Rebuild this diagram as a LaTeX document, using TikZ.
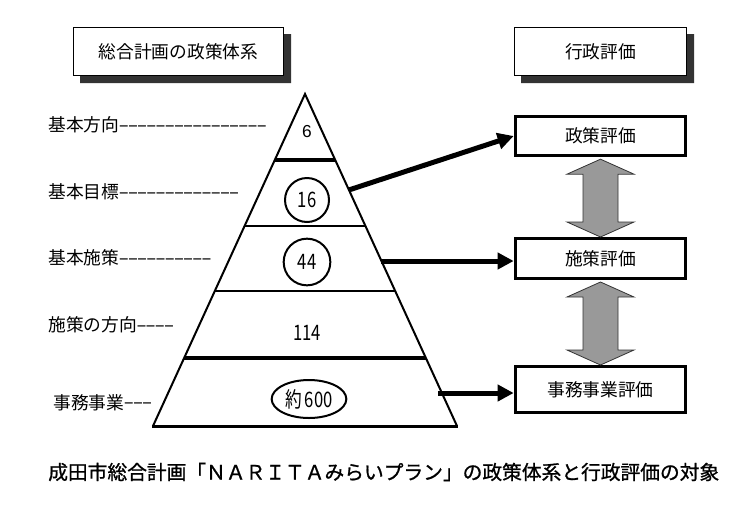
\documentclass[tikz,border=0pt]{standalone}
\usepackage{fontspec}
\usepackage{graphicx}
\usetikzlibrary{arrows.meta,calc,shapes.geometric}
\newfontfamily\jp{Noto Sans CJK JP}
\newfontfamily\jpb[FakeBold=1]{Noto Sans CJK JP}
\newfontfamily\monof{Liberation Mono}
\newfontfamily\arialf{Liberation Sans}
\definecolor{shadowgray}{RGB}{51,51,51}
\definecolor{arrowgray}{RGB}{153,153,153}
\newcommand\hy{\makebox[6.9pt][c]{\monof\fontsize{11.5}{12}\selectfont\raisebox{1.3pt}{\scalebox{1.9}[1]{-}}}}
\newcommand\numtxt[1]{{\jp\fontsize{16}{18}\selectfont\scalebox{0.78}[1]{#1}}}
\begin{document}
\begin{tikzpicture}[x=0.75pt,y=-0.75pt,
  lbl/.style={anchor=west,inner sep=0pt,font=\jp\fontsize{13.3}{16}\selectfont},
  tbox/.style={draw,fill=white,line width=0.75pt,minimum height=36pt,
    font=\jp\fontsize{13.3}{16}\selectfont},
  shadowfill/.style={fill=shadowgray},
  ebox/.style={draw,fill=white,line width=2.25pt,minimum width=128pt,inner sep=0pt,
    font=\jp\fontsize{13.3}{16}\selectfont},
  numc/.style={circle,draw,line width=1.5pt,inner sep=0pt},
  barrow/.style={line width=3.75pt,-{Triangle[length=12pt,width=12pt]}},
  garrow/.style={fill=arrowgray,draw=shadowgray,line width=0.6pt,line join=miter}
]
\useasboundingbox (0,0) rectangle (755,511);

% header boxes
\node[tbox,minimum width=157.5pt] (h1) at (178.5,51.5) {総合計画の政策体系};
\node[tbox,minimum width=129pt] (h2) at (600.5,51.5) {行政評価};
% their shadows (visible L-shaped part)
\foreach \h in {h1,h2}{
  \fill[shadowfill] ($(\h.north east)+(0,7)$) -- ($(\h.north east)+(7,7)$) -- ($(\h.south east)+(7,7)$)
    -- ($(\h.south west)+(7,7)$) -- ($(\h.south west)+(7,0)$) -- (\h.south east) -- cycle;
}

% pyramid
\coordinate (A) at (305,94);
\coordinate (BL) at (153,426);
\coordinate (BR) at (457,426);
\draw[line width=1.5pt,line join=miter] (BL) -- (A) -- (BR);
\draw[line width=2.25pt] ($(BL)+(-1,0)$) -- ($(BR)+(1,0)$);
\draw[line width=3pt] ($(A)!0.1988!(BL)$) -- ($(A)!0.1988!(BR)$);
\draw[line width=1.5pt] ($(A)!0.3976!(BL)$) -- ($(A)!0.3976!(BR)$);
\draw[line width=1.5pt] ($(A)!0.5934!(BL)$) -- ($(A)!0.5934!(BR)$);
\draw[line width=3pt] ($(A)!0.7952!(BL)$) -- ($(A)!0.7952!(BR)$);

% numbers
\node[inner sep=0pt,font=\arialf\fontsize{13}{15}\selectfont] (n6) at (307,132) {6};
\node[numc,minimum size=33pt] (n16) at (307,200) {\numtxt{16}};
\node[numc,minimum size=35pt] (n44) at (307,262) {\numtxt{44}};
\node[inner sep=0pt] (n114) at (307,333) {\numtxt{114}};
\node[ellipse,draw,line width=1.5pt,inner sep=0pt,minimum width=56pt,minimum height=28.5pt] (n600) at (309,399) {\numtxt{約\,600}};

% labels
\node[lbl] (l1) at (48,125) {基本方向\hy\hy\hy\hy\hy\hy\hy\hy\hy\hy\hy\hy\hy\hy\hy\hy};
\node[lbl] (l2) at (48,192) {基本目標\hy\hy\hy\hy\hy\hy\hy\hy\hy\hy\hy\hy\hy};
\node[lbl] (l3) at (48,258) {基本施策\hy\hy\hy\hy\hy\hy\hy\hy\hy\hy};
\node[lbl] (l4) at (48,325) {施策の方向\hy\hy\hy\hy};
\node[lbl] (l5) at (53,403) {事務事業\hy\hy\hy};

% evaluation boxes
\node[ebox,minimum height=29.5pt] (b1) at (600.5,136) {政策評価};
\node[ebox,minimum height=30pt] (b2) at (600.5,258.5) {施策評価};
\node[ebox,minimum height=34.5pt] (b3) at (600.5,389.5) {事務事業評価};

% black arrows
\coordinate (p1) at ($(A)!0.289!(BR)$);
\coordinate (p2) at ($(A)!0.503!(BR)$);
\coordinate (p3) at ($(A)!0.9006!(BR)+(-4,0)$);
\draw[barrow] (p1) -- (b1.west);
\draw[barrow] (p2) -- (p2 -| b2.west);
\draw[barrow] (p3) -- (p3 -| b3.west);

% gray double arrows
\coordinate (t1) at ($(b1.south)+(0,2)$);
\coordinate (u1) at (b2.north);
\draw[garrow] (t1) -- ($(t1)+(33.5,15)$) -- ($(t1)+(17.5,15)$) -- ($(u1)+(17.5,-15)$) -- ($(u1)+(33.5,-15)$)
  -- (u1) -- ($(u1)+(-33.5,-15)$) -- ($(u1)+(-17.5,-15)$) -- ($(t1)+(-17.5,15)$) -- ($(t1)+(-33.5,15)$) -- cycle;
\coordinate (t2) at ($(b2.south)+(0,2)$);
\coordinate (u2) at (b3.north);
\draw[garrow] (t2) -- ($(t2)+(33.5,15)$) -- ($(t2)+(17.5,15)$) -- ($(u2)+(17.5,-15)$) -- ($(u2)+(33.5,-15)$)
  -- (u2) -- ($(u2)+(-33.5,-15)$) -- ($(u2)+(-17.5,-15)$) -- ($(t2)+(-17.5,15)$) -- ($(t2)+(-33.5,15)$) -- cycle;

% caption
\node[anchor=west,inner sep=0pt,font=\jpb\fontsize{14.8}{18}\selectfont] (cap) at (48,472)
  {成田市総合計画「ＮＡＲＩＴＡみらいプラン」の政策体系と行政評価の対象};
\end{tikzpicture}
\end{document}
